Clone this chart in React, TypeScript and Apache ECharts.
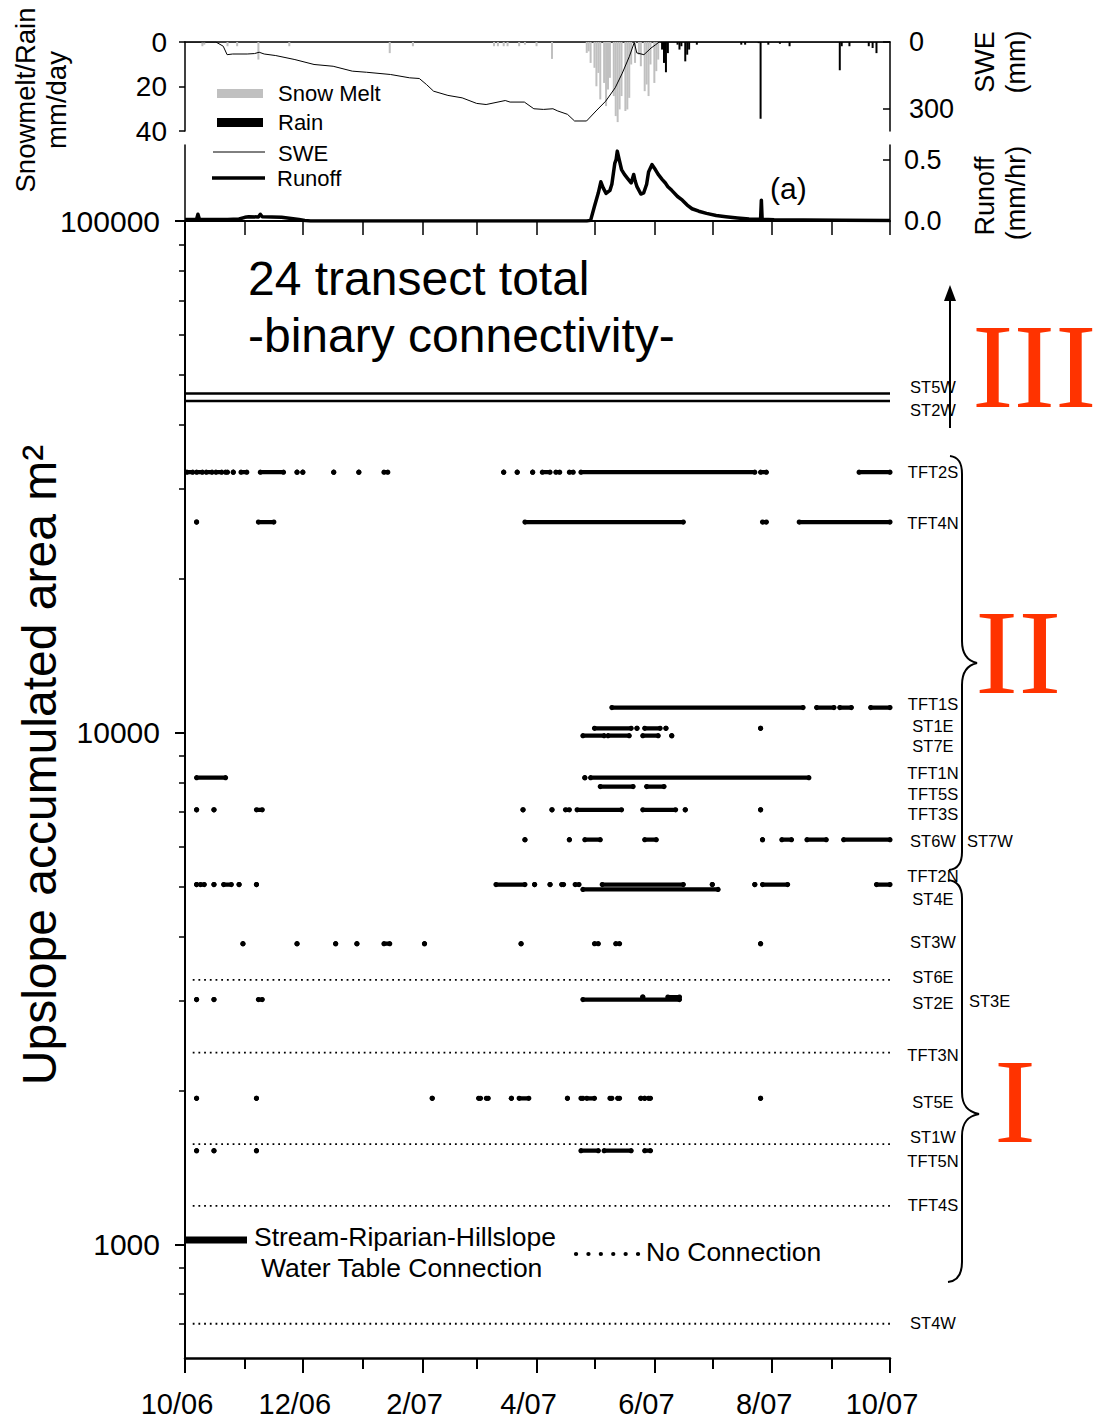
import React, { useEffect, useRef } from 'react';
import * as echarts from 'echarts';

const SANS = '"Liberation Sans", Arial, Helvetica, sans-serif';
const SERIF = '"Liberation Serif", "Times New Roman", Times, serif';

// Day numbers are counted from 1 Oct 2006.
const monthStarts = [0, 31, 61, 92, 123, 151, 182, 212, 243, 273, 304, 335, 365];
const monthLabelDays = [0, 61, 123, 182, 243, 304, 365];
const monthLabels = ['10/06', '12/06', '2/07', '4/07', '6/07', '8/07', '10/07'];

const sweTicks = [0, 300];
const runoffTicks = [0, 0.5];
const areaMinorTicks = [
  700, 800, 900, 1000, 2000, 3000, 4000, 5000, 6000, 7000, 8000, 9000,
  10000, 20000, 30000, 40000, 50000, 60000, 70000, 80000, 90000, 100000,
];
const areaMajorTicks = [1000, 10000, 100000];

// Daily snowmelt, mm/day
const snowMelt: [number, number][] = [
  [9, 1.9], [10, 1.2], [22, 1.9], [27, 1.9], [38, 7.9], [54, 1.9], [106, 5], [118, 1.9],
  [160, 1.9], [162, 1.9], [165, 1.9], [167, 1.9], [173, 1.9], [176, 1.2], [182, 1.9], [190, 7.6],
  [208, 4.9], [209, 4.2], [210, 9.4], [212, 11.6], [213, 19.9], [214, 13.9], [215, 25.8],
  [217, 18.4], [218, 28.8], [219, 21.3], [220, 16.1], [222, 24.3], [223, 33.3], [224, 36],
  [225, 30.3], [226, 24.3], [228, 31], [229, 30.3], [230, 25.1], [231, 10.1], [233, 9.4],
  [235, 5.7], [236, 10.9], [238, 22.1], [239, 19.1], [240, 24.3], [241, 10.1], [243, 18.4],
  [244, 13.1], [245, 7.9],
];

// Daily rain, mm/day
const rain: [number, number][] = [
  [247, 3.4], [248, 9.4], [249, 13.6], [250, 5], [255, 1.2], [256, 3.4], [257, 1.9],
  [259, 8.7], [260, 5.7], [261, 3.4], [265, 1.2], [288, 1.2], [290, 1.2], [297, 0.5],
  [298, 34.5], [302, 1.2], [308, 0.8], [313, 1.9], [339, 12.7], [340, 1.9], [344, 1.9],
  [354, 1.9], [356, 2.7], [358, 5],
];

// Snow water equivalent, mm
const swe: [number, number][] = [
  [0, 0], [16, 0], [19.8, 19], [21.8, 57], [24.7, 54], [32.2, 54], [36, 52], [38.4, 46],
  [41, 54], [47, 61], [56.9, 79], [66.8, 101], [76.7, 109], [86.6, 131], [94, 136],
  [106.4, 146], [116.3, 161], [121.3, 164], [125, 191], [128.7, 221], [136.1, 240],
  [143.5, 251], [151, 276], [155.9, 281], [165.8, 263], [168.3, 270], [175.7, 270],
  [180.6, 300], [185.6, 303], [190.5, 300], [193, 310], [198, 325], [201.7, 355],
  [207.9, 355], [212.8, 310], [217.8, 266], [222.7, 206], [226.4, 140], [230.1, 64],
  [232.6, 2], [233.9, 49], [237.6, 57], [241.3, 27], [243.7, 12], [245.5, 0], [365, 0],
];

// Catchment runoff, mm/hr
const runoff: [number, number][] = [
  [0, 0.012], [3, 0.012], [6, 0.015], [6.7, 0.055], [7.5, 0.013], [15, 0.012], [22, 0.013],
  [28, 0.016], [31, 0.03], [33, 0.035], [38, 0.033], [39, 0.055], [40, 0.035], [45, 0.033],
  [50, 0.03], [55, 0.02], [59, 0.012], [62, 0.004], [65, 0], [208, 0], [210, 0.005],
  [212, 0.12], [214, 0.23], [215.3, 0.32], [216.5, 0.27], [218, 0.225], [220, 0.25],
  [221, 0.3], [222.5, 0.47], [223.2, 0.5], [223.8, 0.57], [224.8, 0.5], [226, 0.42],
  [227.5, 0.38], [229, 0.35], [231, 0.31], [232.3, 0.38], [233, 0.33], [234, 0.28],
  [236, 0.22], [237.5, 0.23], [239, 0.3], [240, 0.4], [241.8, 0.46], [243.5, 0.42],
  [245, 0.38], [247, 0.34], [248.7, 0.31], [250, 0.28], [252, 0.25], [255, 0.2],
  [257.5, 0.17], [260, 0.13], [262.5, 0.1], [266, 0.08], [270, 0.062], [275, 0.045],
  [280, 0.035], [286, 0.025], [292, 0.016], [297, 0.014], [298, 0.015], [298.4, 0.17],
  [298.8, 0.015], [305, 0.01], [320, 0.008], [340, 0.006], [365, 0.004],
];

type Span = [number, number];
type Transect = { name: string; area: number; spans: Span[] };

// Transects connected all year
const alwaysConnected: Transect[] = [
  { name: 'ST5W', area: 46000, spans: [[0, 365]] },
  { name: 'ST2W', area: 44500, spans: [[0, 365]] },
];

// Days with a stream-riparian-hillslope water table connection
const intermittent: Transect[] = [
  { name: 'TFT2S', area: 32300, spans: [[1, 4], [6, 9], [11, 14], [16, 19], [21, 22], [25, 25], [29, 32], [39, 51], [58, 58], [61, 61], [77, 77], [90, 90], [103, 105], [165, 165], [172, 172], [180, 180], [185, 189], [192, 194], [199, 201], [205, 295], [298, 301], [349, 365]] },
  { name: 'TFT4N', area: 25800, spans: [[6, 6], [38, 46], [176, 258], [299, 301], [318, 365]] },
  { name: 'TFT1S', area: 11200, spans: [[221, 320], [327, 336], [339, 345], [355, 365]] },
  { name: 'ST1E', area: 10200, spans: [[212, 231], [234, 234], [238, 246], [249, 249], [298, 298]] },
  { name: 'ST7E', area: 9870, spans: [[206, 217], [219, 230], [237, 245], [252, 252]] },
  { name: 'TFT1N', area: 8170, spans: [[6, 21], [207, 207], [210, 323]] },
  { name: 'TFT5S', area: 7850, spans: [[215, 232], [239, 248]] },
  { name: 'TFT3S', area: 7070, spans: [[6, 6], [15, 15], [37, 40], [175, 175], [190, 190], [197, 199], [203, 226], [237, 254], [259, 259], [298, 298]] },
  { name: 'ST6W', area: 6180, spans: [[176, 176], [199, 199], [207, 215], [238, 244], [299, 299], [309, 314], [322, 332], [341, 365]] },
  { name: 'TFT2N', area: 5050, spans: [[6, 6], [8, 10], [15, 15], [20, 24], [28, 28], [37, 37], [161, 176], [181, 181], [189, 189], [195, 196], [202, 204], [216, 258], [273, 273], [295, 295], [299, 312], [358, 365]] },
  { name: 'ST4E', area: 4940, spans: [[206, 276]] },
  { name: 'ST3W', area: 3870, spans: [[30, 30], [58, 58], [78, 78], [89, 89], [103, 106], [124, 124], [174, 174], [212, 214], [223, 225], [298, 298]] },
  { name: 'ST3E', area: 3045, spans: [[237, 237], [250, 256]] },
  { name: 'ST2E', area: 3010, spans: [[6, 6], [15, 15], [38, 40], [206, 256]] },
  { name: 'ST5E', area: 1930, spans: [[6, 6], [37, 37], [128, 128], [152, 153], [156, 157], [169, 169], [173, 178], [198, 198], [205, 206], [208, 212], [220, 221], [224, 225], [236, 236], [238, 238], [240, 241], [298, 298]] },
  { name: 'TFT5N', area: 1525, spans: [[6, 6], [15, 15], [37, 37], [205, 214], [217, 231], [238, 241]] },
];

// Transects that never connected
const neverConnected: Transect[] = [
  { name: 'ST6E', area: 3290, spans: [[4, 365]] },
  { name: 'TFT3N', area: 2370, spans: [[4, 365]] },
  { name: 'ST1W', area: 1570, spans: [[4, 365]] },
  { name: 'TFT4S', area: 1190, spans: [[4, 365]] },
  { name: 'ST4W', area: 700, spans: [[4, 365]] },
];

// Transect names listed down the right-hand side
const sideNames: [string, number][] = [
  ['ST5W', 387], ['ST2W', 410], ['TFT2S', 472], ['TFT4N', 523], ['TFT1S', 704], ['ST1E', 726],
  ['ST7E', 746], ['TFT1N', 773], ['TFT5S', 794], ['TFT3S', 814], ['ST6W', 841], ['TFT2N', 876],
  ['ST4E', 899], ['ST3W', 942], ['ST6E', 977], ['ST2E', 1003], ['TFT3N', 1055], ['ST5E', 1102],
  ['ST1W', 1137], ['TFT5N', 1161], ['TFT4S', 1205], ['ST4W', 1323],
];

const lg = (v: number) => Math.round(Math.log10(v) * 1e6) / 1e6;

const braceUpper =
  'M950 456 C958 457 962 462 962 474 L962 641 C962 655 968 661 977 663 C968 665 962 671 962 685 L962 852 C962 863 958 869 949 870';
const braceLower =
  'M948 880 C957 881 962 887 962 898 L962 1092 C962 1106 968 1112 979 1114 C968 1116 962 1122 962 1136 L962 1262 C962 1274 958 1281 948 1282';
echarts.graphic.registerShape('braceUpper', echarts.graphic.extendPath(braceUpper, {}));
echarts.graphic.registerShape('braceLower', echarts.graphic.extendPath(braceLower, {}));

function spansToPoints(t: Transect) {
  const pts: [number, number][] = [];
  t.spans.forEach(([s, e], i) => {
    if (i > 0) pts.push([NaN, NaN]);
    pts.push([s, t.area], [e, t.area]);
  });
  return pts;
}

function text(
  s: string,
  x: number,
  y: number,
  size: number,
  opt: { align?: string; rotation?: number; family?: string; fill?: string; scaleX?: number } = {}
) {
  const align = opt.align ?? 'left';
  return {
    type: 'text',
    x,
    y,
    rotation: opt.rotation ?? 0,
    scaleX: opt.scaleX ?? 1,
    silent: true,
    z: 10,
    style: {
      text: s,
      fontSize: size,
      fontFamily: opt.family ?? SANS,
      fill: opt.fill ?? '#000',
      align,
      textAlign: align,
      verticalAlign: 'middle',
      textVerticalAlign: 'middle',
    },
  };
}

function buildOption() {
  const black = '#000';
  const noTick = { show: false };
  const noLabel = { show: false };
  const noSplit = { show: false };
  const line = (w: number) => ({ show: true, lineStyle: { color: black, width: w } });

  const labelFor = (d: number) => {
    const i = monthLabelDays.indexOf(Math.round(d));
    return i >= 0 ? monthLabels[i] : '';
  };

  const series: any[] = [
    {
      type: 'bar', name: 'Snow Melt', xAxisIndex: 0, yAxisIndex: 0, data: snowMelt,
      barWidth: 2, barGap: '-100%', itemStyle: { color: '#c0c0c0' }, silent: true,
    },
    {
      type: 'bar', name: 'Rain', xAxisIndex: 0, yAxisIndex: 0, data: rain,
      barWidth: 2, barGap: '-100%', itemStyle: { color: black }, silent: true,
    },
    {
      type: 'line', name: 'SWE', xAxisIndex: 0, yAxisIndex: 1, data: swe, showSymbol: false,
      symbol: 'none', lineStyle: { color: black, width: 1 }, silent: true,
    },
    {
      type: 'line', name: 'Runoff', xAxisIndex: 1, yAxisIndex: 3, data: runoff, showSymbol: false,
      symbol: 'none', lineStyle: { color: black, width: 3.5, join: 'round' }, silent: true,
    },
  ];

  alwaysConnected.forEach((t) =>
    series.push({
      type: 'line', name: t.name, xAxisIndex: 2, yAxisIndex: 4, data: spansToPoints(t),
      symbol: 'none', showSymbol: false, lineStyle: { color: black, width: 2.5 }, silent: true,
    })
  );
  intermittent.forEach((t) =>
    series.push({
      type: 'line', name: t.name, xAxisIndex: 2, yAxisIndex: 4, data: spansToPoints(t),
      symbol: 'circle', symbolSize: 5.2, showSymbol: true, connectNulls: false,
      itemStyle: { color: black, borderWidth: 0 },
      lineStyle: { color: black, width: 4.2, cap: 'round' }, silent: true,
    })
  );
  neverConnected.forEach((t) =>
    series.push({
      type: 'line', name: t.name, xAxisIndex: 2, yAxisIndex: 4, data: spansToPoints(t),
      symbol: 'none', showSymbol: false,
      lineStyle: { color: black, width: 1.8, type: [1.8, 3.9] }, silent: true,
    })
  );

  const red = '#ff3300';
  const graphic: any[] = [
    // axis titles
    text('Snowmelt/Rain', 25, 100, 27.5, { align: 'center', rotation: Math.PI / 2 }),
    text('mm/day', 56, 100, 27.5, { align: 'center', rotation: Math.PI / 2 }),
    text('SWE', 985, 62, 27, { align: 'center', rotation: Math.PI / 2 }),
    text('(mm)', 1016, 62, 27, { align: 'center', rotation: Math.PI / 2 }),
    text('Runoff', 985, 196, 27, { align: 'center', rotation: Math.PI / 2 }),
    text('(mm/hr)', 1016, 193, 27, { align: 'center', rotation: Math.PI / 2 }),
    text('Upslope accumulated area m\u00B2', 39, 765, 48, { align: 'center', rotation: Math.PI / 2 }),
    // top legend
    { type: 'rect', silent: true, shape: { x: 217, y: 89, width: 46, height: 9 }, style: { fill: '#c0c0c0' } },
    { type: 'rect', silent: true, shape: { x: 217, y: 118, width: 46, height: 9 }, style: { fill: black } },
    { type: 'line', silent: true, shape: { x1: 213, y1: 152, x2: 265, y2: 152 }, style: { stroke: black, lineWidth: 1 } },
    { type: 'line', silent: true, shape: { x1: 212, y1: 178, x2: 265, y2: 178 }, style: { stroke: black, lineWidth: 3.5 } },
    text('Snow Melt', 278, 93, 22),
    text('Rain', 278, 122, 22),
    text('SWE', 278, 153, 22),
    text('Runoff', 277, 178, 22),
    text('(a)', 770, 188, 30),
    // main panel title
    text('24 transect total', 248, 278, 48),
    text('-binary connectivity-', 248, 335, 48),
    // main panel legend
    { type: 'line', silent: true, z: 10, shape: { x1: 185, y1: 1240, x2: 247, y2: 1240 }, style: { stroke: black, lineWidth: 7 } },
    text('Stream-Riparian-Hillslope', 254, 1237, 26.5),
    text('Water Table Connection', 261, 1268, 26.5),
    {
      type: 'line', silent: true, z: 10, shape: { x1: 576, y1: 1254, x2: 640, y2: 1254 },
      style: { stroke: black, lineWidth: 4.2, lineCap: 'round', lineDash: [0.1, 12.3] },
    },
    text('No Connection', 646, 1252, 26.5),
    // transect names
    ...sideNames.map(([n, y]) => text(n, 933, y, 16.5, { align: 'center' })),
    text('ST7W', 967, 841, 16.5),
    text('ST3E', 969, 1001, 16.5),
    // groupings
    { type: 'line', silent: true, shape: { x1: 950, y1: 428, x2: 950, y2: 296 }, style: { stroke: black, lineWidth: 2 } },
    { type: 'polygon', silent: true, shape: { points: [[944, 301], [950, 285], [956, 301]] }, style: { fill: black } },
    { type: 'braceUpper', silent: true, x: 0, y: 0, style: { stroke: black, lineWidth: 2, fill: 'none' } },
    { type: 'braceLower', silent: true, x: 0, y: 0, style: { stroke: black, lineWidth: 2, fill: 'none' } },
    text('III', 972, 366, 120, { family: SERIF, fill: red, scaleX: 1.04 }),
    text('II', 975, 653, 120, { family: SERIF, fill: red, scaleX: 1.08 }),
    text('I', 994, 1102, 120, { family: SERIF, fill: red, scaleX: 1.05 }),
  ];

  return {
    animation: false,
    backgroundColor: '#fff',
    textStyle: { fontFamily: SANS, color: black },
    grid: [
      { left: 185, top: 42, width: 705, height: 89 },
      { left: 185, top: 145, width: 705, height: 76 },
      { left: 185, top: 221, width: 705, height: 1137 },
    ],
    xAxis: [
      {
        gridIndex: 0, type: 'value', min: 0, max: 365, position: 'top',
        axisLine: line(1.5), axisTick: noTick, axisLabel: noLabel, splitLine: noSplit,
      },
      { gridIndex: 1, type: 'value', min: 0, max: 365, show: false, splitLine: noSplit },
      {
        gridIndex: 2, type: 'value', min: 0, max: 365, position: 'bottom',
        axisLine: line(2.5),
        axisTick: { show: true, customValues: monthStarts, length: 11, lineStyle: { color: black, width: 2 } },
        axisLabel: noLabel, splitLine: noSplit,
      },
      {
        gridIndex: 2, type: 'value', min: 0, max: 365, position: 'bottom',
        axisLine: { show: false },
        axisTick: { show: true, customValues: monthLabelDays, length: 15, lineStyle: { color: black, width: 2 } },
        axisLabel: {
          show: true, customValues: monthLabelDays, formatter: labelFor, fontSize: 29,
          fontFamily: SANS, color: black, margin: 31, padding: [0, 16, 0, 0],
        },
        splitLine: noSplit,
      },
      {
        gridIndex: 2, type: 'value', min: 0, max: 365, position: 'top',
        axisLine: line(2),
        axisTick: { show: true, inside: true, customValues: monthStarts, length: 14, lineStyle: { color: black, width: 1.5 } },
        axisLabel: noLabel, splitLine: noSplit,
      },
    ],
    yAxis: [
      {
        gridIndex: 0, type: 'value', min: 0, max: 40, interval: 20, inverse: true, position: 'left',
        axisLine: line(1.5), axisTick: { show: true, length: 6, lineStyle: { color: black, width: 1.5 } },
        axisLabel: { fontSize: 28, fontFamily: SANS, color: black, margin: 18 }, splitLine: noSplit,
      },
      {
        gridIndex: 0, type: 'value', min: 0, max: 400, inverse: true, position: 'right',
        axisLine: line(1.5),
        axisTick: { show: true, inside: true, customValues: sweTicks, length: 7, lineStyle: { color: black, width: 1.5 } },
        axisLabel: { show: true, customValues: sweTicks, fontSize: 27, fontFamily: SANS, color: black, margin: 19 },
        splitLine: noSplit,
      },
      {
        gridIndex: 1, type: 'value', min: 0, max: 0.62, position: 'left',
        axisLine: line(1.5), axisTick: noTick, axisLabel: noLabel, splitLine: noSplit,
      },
      {
        gridIndex: 1, type: 'value', min: 0, max: 0.62, position: 'right',
        axisLine: line(1.5),
        axisTick: { show: true, inside: true, customValues: runoffTicks, length: 7, lineStyle: { color: black, width: 1.5 } },
        axisLabel: {
          show: true, customValues: runoffTicks, formatter: (v: number) => v.toFixed(1),
          fontSize: 27, fontFamily: SANS, color: black, margin: 14,
        },
        splitLine: noSplit,
      },
      {
        gridIndex: 2, type: 'log', logBase: 10, min: 600, max: 100000, position: 'right',
        axisLine: line(2), axisTick: noTick, axisLabel: noLabel, splitLine: noSplit, minorTick: { show: false },
      },
      {
        gridIndex: 2, type: 'value', min: lg(600), max: lg(100000), position: 'left',
        axisLine: line(2),
        axisTick: { show: true, customValues: areaMinorTicks.map(lg), length: 6, lineStyle: { color: black, width: 1.5 } },
        axisLabel: noLabel, splitLine: noSplit,
      },
      {
        gridIndex: 2, type: 'value', min: lg(600), max: lg(100000), position: 'left',
        axisLine: { show: false },
        axisTick: { show: true, customValues: areaMajorTicks.map(lg), length: 10, lineStyle: { color: black, width: 2 } },
        axisLabel: {
          show: true, customValues: areaMajorTicks.map(lg),
          formatter: (v: number) => String(Math.round(Math.pow(10, v))),
          fontSize: 30, fontFamily: SANS, color: black, margin: 25,
        },
        splitLine: noSplit,
      },
    ],
    series,
    graphic,
  };
}

export default function App() {
  const ref = useRef<HTMLDivElement>(null);
  useEffect(() => {
    if (!ref.current) return;
    const chart = echarts.init(ref.current, null, { renderer: 'svg' });
    chart.setOption(buildOption() as any);
    return () => chart.dispose();
  }, []);
  return (
    <div
      ref={ref}
      style={{ position: 'absolute', left: 0, top: 0, width: 1103, height: 1422, background: '#fff' }}
    />
  );
}
